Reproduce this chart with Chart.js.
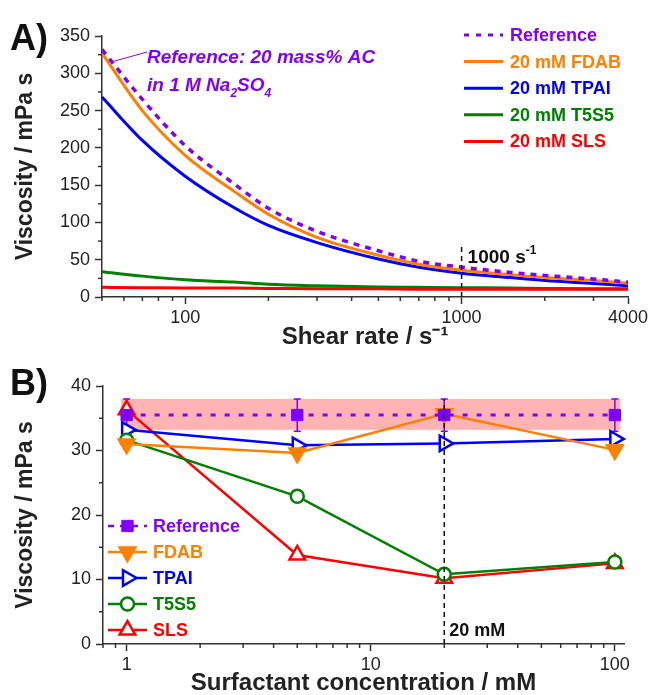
<!DOCTYPE html>
<html>
<head>
<meta charset="utf-8">
<script src="https://cdn.jsdelivr.net/npm/chart.js@4.4.1/dist/chart.umd.min.js"></script>
<style>
  body { margin: 0; background: #fff; width: 652px; height: 695px; position: relative; overflow: hidden; }
  canvas { position: absolute; left: 0; }
  #chartA { top: 0; }
  #chartB { top: 345px; }
</style>
</head>
<body>
<canvas id="chartA" width="652" height="360"></canvas>
<canvas id="chartB" width="652" height="350"></canvas>
<script>
// A) viscosity vs shear rate
const shearRate = [50, 70, 100, 150, 200, 300, 500, 700, 1000, 1500, 2000, 3000, 4000];
const refCurve  = [332, 265, 203, 152, 119, 88, 62, 48, 40, 33, 29, 24, 20];
const fdabCurve = [327, 250, 190, 142, 111, 80, 56, 44, 36, 30, 26, 22, 18.5];
const tpaiCurve = [268, 210, 162, 120, 96, 73, 51, 40, 32, 26, 22, 18, 15];
const t5s5Curve = [34, 28, 23, 20, 17, 15, 13.5, 13, 12.5, 12, 11.5, 11, 11];
const slsCurve  = [13, 12.5, 12, 12, 11.5, 11, 11, 10.5, 10.5, 10.5, 10.5, 10.5, 10.5];
const shearTicks = [100, 1000, 4000];
const viscTicksA = [0, 50, 100, 150, 200, 250, 300, 350];

// B) viscosity at 1000 s-1 vs surfactant concentration
const concentration = [1, 5, 20, 100];
const refVisc = [35.5, 35.5, 35.5, 35.5];
const refErr  = [2.5, 2.5, 2.5, 2.5];
const refBand = [33.2, 38.0];
const fdabVisc = [31.0, 29.6, 35.7, 30.1];
const tpaiVisc = [33.2, 30.8, 31.1, 31.8];
const t5s5Visc = [31.6, 22.9, 10.8, 12.7];
const slsVisc  = [36.3, 13.8, 10.2, 12.5];
const concTicks = [1, 10, 100];
const viscTicksB = [0, 10, 20, 30, 40];

const FONT = "'Liberation Sans', Arial, sans-serif";
const AXIS = '#333';
const TEXT = '#222';
const PURPLE = '#7f00ff', ORANGE = '#ff8000', BLUE = '#0000ff', GREEN = '#008000', RED = '#ff0000';

function pts(xs, ys) {
    return xs.map((x, i) => ({ x: x, y: ys[i] }));
}

// 로그축 보조눈금 (1..9 x 10^k)
function logSteps(min, max) {
    const out = [];
    for (let k = Math.floor(Math.log10(min)); k <= Math.ceil(Math.log10(max)); k++) {
        for (let d = 1; d < 10; d++) {
            const v = +(d * Math.pow(10, k)).toPrecision(6);
            if (v >= min - 1e-9 && v <= max + 1e-9) out.push(v);
        }
    }
    return out;
}

function linSteps(min, max, step) {
    const out = [];
    for (let v = min; v <= max + 1e-9; v += step) out.push(+v.toFixed(6));
    return out;
}

function makeScale(cfg) {
    const horizontal = cfg.axis === 'x';
    return {
        type: cfg.type,
        min: cfg.min,
        max: cfg.max,
        afterBuildTicks: s => { s.ticks = cfg.all.map(v => ({ value: v })); },
        afterFit: s => {
            if (horizontal) s.height = cfg.size; else s.width = cfg.size;
            s.paddingLeft = 0; s.paddingRight = 0;
        },
        border: { display: true, color: AXIS, width: 1.5 },
        grid: {
            drawOnChartArea: false,
            drawTicks: true,
            tickLength: 7,
            tickWidth: 1.5,
            tickColor: c => (c.tick && cfg.majors.includes(c.tick.value)) ? AXIS : 'rgba(0,0,0,0)'
        },
        ticks: {
            autoSkip: false,
            maxRotation: 0,
            minRotation: 0,
            padding: horizontal ? 3 : 5,
            color: TEXT,
            font: { family: FONT, size: 18 },
            callback: v => cfg.majors.includes(v) ? String(v) : ''
        },
        title: {
            display: true,
            text: cfg.title,
            color: TEXT,
            font: { family: FONT, size: horizontal ? 24 : 23, weight: 'bold', lineHeight: 1 },
            padding: cfg.titlePad
        }
    };
}

// 보조눈금 그리기
function minorTicks(majorsX, majorsY) {
    return {
        id: 'minorTicks',
        afterDraw(chart) {
            const ctx = chart.ctx;
            ctx.save();
            ctx.strokeStyle = AXIS;
            ctx.lineWidth = 1.5;
            const sx = chart.scales.x, sy = chart.scales.y;
            sx.ticks.forEach(t => {
                if (majorsX.includes(t.value)) return;
                const p = sx.getPixelForValue(t.value);
                ctx.beginPath(); ctx.moveTo(p, sx.top); ctx.lineTo(p, sx.top + 4); ctx.stroke();
            });
            sy.ticks.forEach(t => {
                if (majorsY.includes(t.value)) return;
                const p = sy.getPixelForValue(t.value);
                ctx.beginPath(); ctx.moveTo(sy.right, p); ctx.lineTo(sy.right - 4, p); ctx.stroke();
            });
            ctx.restore();
        }
    };
}

function vLine(chart, xv, y0, y1) {
    const ctx = chart.ctx, sx = chart.scales.x, sy = chart.scales.y;
    const px = sx.getPixelForValue(xv);
    ctx.save();
    ctx.strokeStyle = '#111';
    ctx.lineWidth = 1.5;
    ctx.setLineDash([5, 4]);
    ctx.beginPath();
    ctx.moveTo(px, sy.getPixelForValue(y0));
    ctx.lineTo(px, sy.getPixelForValue(y1));
    ctx.stroke();
    ctx.restore();
}

function drawLegend(ctx, items, x0, x1, textX, y0, dy) {
    ctx.save();
    ctx.font = 'bold 18px ' + FONT;
    ctx.textBaseline = 'middle';
    items.forEach((it, i) => {
        const y = y0 + i * dy;
        ctx.strokeStyle = it.color;
        ctx.lineWidth = it.width;
        ctx.setLineDash(it.dash || []);
        ctx.beginPath(); ctx.moveTo(x0, y); ctx.lineTo(x1, y); ctx.stroke();
        ctx.setLineDash([]);
        if (it.point) {
            ctx.fillStyle = it.fill;
            ctx.strokeStyle = it.color;
            ctx.lineWidth = it.point.borderWidth;
            Chart.helpers.drawPoint(ctx, it.point, (x0 + x1) / 2, y);
        }
        ctx.fillStyle = it.color;
        ctx.fillText(it.label, textX, y + 1);
    });
    ctx.restore();
}

function panelLabel(ctx, text, x, y) {
    ctx.save();
    ctx.font = 'bold 36px ' + FONT;
    ctx.fillStyle = '#111';
    ctx.textBaseline = 'alphabetic';
    ctx.fillText(text, x, y);
    ctx.restore();
}

// 아래첨자/위첨자가 들어간 문자열 그리기
function richText(ctx, parts, x, y, size, style, color) {
    ctx.save();
    ctx.fillStyle = color;
    ctx.textBaseline = 'alphabetic';
    let cx = x;
    parts.forEach(p => {
        const sz = p.sub || p.sup ? Math.round(size * 0.62) : size;
        ctx.font = style + ' ' + sz + 'px ' + FONT;
        const dyy = p.sub ? size * 0.3 : (p.sup ? -size * 0.45 : 0);
        ctx.fillText(p.t, cx, y + dyy);
        cx += ctx.measureText(p.t).width;
    });
    ctx.restore();
}

const lineA = (label, data, color, order, dash) => ({
    label: label,
    data: pts(shearRate, data),
    borderColor: color,
    backgroundColor: color,
    borderWidth: dash ? 3.5 : 3,
    borderDash: dash || [],
    pointRadius: 0,
    tension: 0.4,
    cubicInterpolationMode: 'monotone',
    order: order
});

const chartA = new Chart(document.getElementById('chartA'), {
    type: 'line',
    data: {
        datasets: [
            lineA('Reference', refCurve, PURPLE, 0, [6, 6]),
            lineA('20 mM FDAB', fdabCurve, ORANGE, 2),
            lineA('20 mM TPAI', tpaiCurve, BLUE, 3),
            lineA('20 mM T5S5', t5s5Curve, GREEN, 4),
            lineA('20 mM SLS', slsCurve, RED, 1)
        ]
    },
    options: {
        responsive: false,
        animation: false,
        events: [],
        layout: { padding: { left: 0, right: 24, top: 36, bottom: 0 } },
        plugins: { legend: { display: false }, tooltip: { enabled: false } },
        scales: {
            x: makeScale({ axis: 'x', type: 'logarithmic', min: 50, max: 4000, all: logSteps(50, 4000),
                majors: shearTicks, title: 'Shear rate / s\u207B\u00B9', titlePad: { top: 0, bottom: 11 }, size: 63 }),
            y: makeScale({ axis: 'y', type: 'linear', min: 0, max: 350, all: linSteps(0, 350, 25),
                majors: viscTicksA, title: 'Viscosity / mPa s', titlePad: { top: 14, bottom: 0 }, size: 102 })
        }
    },
    plugins: [minorTicks(shearTicks, viscTicksA), {
        id: 'overlayA',
        afterDatasetsDraw(chart) {
            vLine(chart, 1000, 0, 72);
        },
        afterDraw(chart) {
            const ctx = chart.ctx, area = chart.chartArea;
            const sx = chart.scales.x, sy = chart.scales.y;
            panelLabel(ctx, 'A)', 10, 50);
            const tx = area.left + 45;
            // 주석 지시선
            ctx.save();
            ctx.strokeStyle = PURPLE;
            ctx.lineWidth = 1;
            ctx.beginPath();
            ctx.moveTo(tx, area.top + 16);
            ctx.lineTo(sx.getPixelForValue(55), sy.getPixelForValue(316));
            ctx.stroke();
            ctx.restore();
            richText(ctx, [{ t: 'Reference: 20 mass% AC' }], tx, area.top + 27, 19, 'italic bold', PURPLE);
            richText(ctx, [{ t: 'in 1 M Na' }, { t: '2', sub: true }, { t: 'SO' }, { t: '4', sub: true }],
                tx, area.top + 55, 19, 'italic bold', PURPLE);
            richText(ctx, [{ t: '1000 s' }, { t: '-1', sup: true }],
                sx.getPixelForValue(1000) + 6, area.bottom - 34, 19, 'bold', '#111');
            const ds = chart.data.datasets;
            drawLegend(ctx, ds.map(d => ({
                label: d.label, color: d.borderColor, width: 3,
                dash: d.borderDash.length ? [5, 7] : null
            })), area.right - 164, area.right - 125, area.right - 118, 35, 26.6);
        }
    }]
});

const lineB = (label, data, color, order, style, rotation, radius, fill) => ({
    label: label,
    data: pts(concentration, data),
    borderColor: color,
    backgroundColor: fill,
    borderWidth: 2.5,
    pointStyle: style,
    rotation: rotation,
    pointRadius: radius,
    pointBorderWidth: 2.5,
    pointBackgroundColor: fill,
    pointBorderColor: color,
    tension: 0,
    clip: false,
    order: order
});

const refB = lineB('Reference', refVisc, PURPLE, 0, 'rect', 0, 8, PURPLE);
refB.borderDash = [5, 9];
refB.borderWidth = 3;
refB.pointBorderWidth = 1;

const chartB = new Chart(document.getElementById('chartB'), {
    type: 'line',
    data: {
        datasets: [
            refB,
            lineB('FDAB', fdabVisc, ORANGE, 1, 'triangle', 180, 9, ORANGE),
            lineB('TPAI', tpaiVisc, BLUE, 3, 'triangle', 90, 9, '#fff'),
            lineB('T5S5', t5s5Visc, GREEN, 2, 'circle', 0, 6.5, '#fff'),
            lineB('SLS', slsVisc, RED, 4, 'triangle', 0, 9, '#fff')
        ]
    },
    options: {
        responsive: false,
        animation: false,
        events: [],
        layout: { padding: { left: 0, right: 28, top: 41, bottom: 0 } },
        plugins: { legend: { display: false }, tooltip: { enabled: false } },
        scales: {
            x: makeScale({ axis: 'x', type: 'logarithmic', min: 0.8, max: 109, all: logSteps(0.8, 109),
                majors: concTicks, title: 'Surfactant concentration / mM', titlePad: { top: 0, bottom: 0 }, size: 51 }),
            y: makeScale({ axis: 'y', type: 'linear', min: 0, max: 40, all: linSteps(0, 40, 5),
                majors: viscTicksB, title: 'Viscosity / mPa s', titlePad: { top: 14, bottom: 0 }, size: 103 })
        }
    },
    plugins: [minorTicks(concTicks, viscTicksB), {
        id: 'overlayB',
        beforeDatasetsDraw(chart) {
            const ctx = chart.ctx, sx = chart.scales.x, sy = chart.scales.y;
            const r = 5.5;
            const x0 = sx.getPixelForValue(concentration[0]) - r;
            const x1 = sx.getPixelForValue(concentration[concentration.length - 1]) + r;
            const yTop = sy.getPixelForValue(refBand[1]);
            const yBot = sy.getPixelForValue(refBand[0]);
            ctx.save();
            ctx.fillStyle = '#ffb3b3';
            ctx.fillRect(x0, yTop, x1 - x0, yBot - yTop);
            // 기준 시료 오차막대
            ctx.strokeStyle = PURPLE;
            ctx.lineWidth = 1.5;
            concentration.forEach((c, i) => {
                const px = sx.getPixelForValue(c);
                const ya = sy.getPixelForValue(refVisc[i] + refErr[i]);
                const yb = sy.getPixelForValue(refVisc[i] - refErr[i]);
                ctx.beginPath();
                ctx.moveTo(px, ya); ctx.lineTo(px, yb);
                ctx.moveTo(px - 3.5, ya); ctx.lineTo(px + 3.5, ya);
                ctx.moveTo(px - 3.5, yb); ctx.lineTo(px + 3.5, yb);
                ctx.stroke();
            });
            ctx.restore();
        },
        afterDatasetsDraw(chart) {
            vLine(chart, 20, 0, 38);
        },
        afterDraw(chart) {
            const ctx = chart.ctx, area = chart.chartArea, sx = chart.scales.x;
            panelLabel(ctx, 'B)', 10, 50);
            richText(ctx, [{ t: '20 mM' }], sx.getPixelForValue(20) + 5, area.bottom - 8, 18, 'bold', '#111');
            const ds = chart.data.datasets;
            drawLegend(ctx, ds.map(d => ({
                label: d.label, color: d.borderColor, width: 2.5,
                dash: d.borderDash && d.borderDash.length ? [6, 6] : null,
                fill: d.pointBackgroundColor,
                point: { pointStyle: d.pointStyle, rotation: d.rotation, radius: d.pointRadius, borderWidth: d.pointBorderWidth }
            })), area.left + 5, area.left + 44, area.left + 50, area.top + 140, 26);
        }
    }]
});
</script>
</body>
</html>
